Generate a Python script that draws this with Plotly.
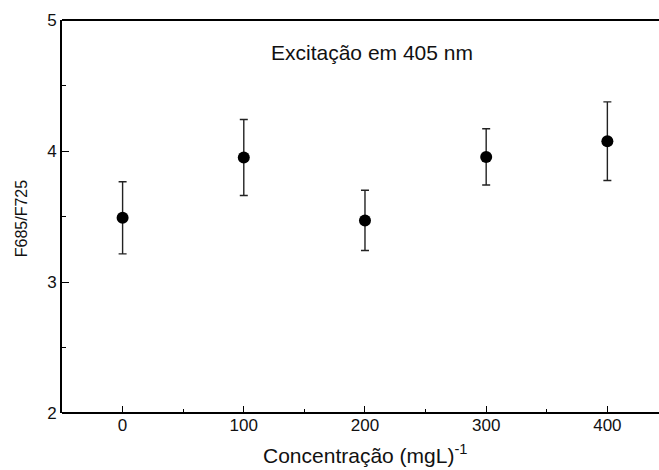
import plotly.graph_objects as go

# Concentration series (mg/L) and fluorescence ratio F685/F725 with standard deviation
concentracao = [0, 100, 200, 300, 400]
razao_f685_f725 = [3.49, 3.95, 3.47, 3.955, 4.075]
desvio = [0.275, 0.29, 0.23, 0.215, 0.30]

x_ticks = [0, 100, 200, 300, 400]
y_ticks = [2, 3, 4, 5]

FONT = "Liberation Sans, Arial, sans-serif"
TXT = "#111111"

fig = go.Figure()
fig.add_trace(go.Scatter(
    x=concentracao,
    y=razao_f685_f725,
    mode="markers",
    marker=dict(symbol="circle", size=12, color="black"),
    error_y=dict(type="data", array=desvio, visible=True,
                 color="#222222", thickness=1.4, width=4),
    showlegend=False,
))

fig.add_annotation(
    x=206, y=4.755, xref="x", yref="y",
    text="Excitação em 405 nm", showarrow=False,
    font=dict(family=FONT, size=21, color=TXT),
)

# axis titles placed as annotations
fig.add_annotation(
    x=200, y=-0.105, xref="x", yref="paper",
    xanchor="center", yanchor="middle",
    text="Concentração (mgL)<sup>-1</sup>", showarrow=False,
    font=dict(family=FONT, size=21, color=TXT),
)
fig.add_annotation(
    x=-0.069, y=0.494, xref="paper", yref="paper",
    xanchor="center", yanchor="middle", textangle=-90,
    text="F685/F725", showarrow=False,
    font=dict(family=FONT, size=16, color=TXT),
)

# top and bottom frame lines running out to the page edge (right side left open)
for yy in (0, 1):
    fig.add_shape(type="line", xref="paper", yref="paper",
                  x0=0, x1=1.0136, y0=yy, y1=yy,
                  line=dict(color="black", width=1.8))

fig.update_layout(
    width=659, height=470,
    margin=dict(l=62, r=8, t=20, b=57, pad=0),
    plot_bgcolor="white",
    paper_bgcolor="white",
    font=dict(family=FONT, color=TXT),
)

fig.update_xaxes(
    range=[-50, 436],
    tickvals=x_ticks,
    ticks="inside", ticklen=7, tickwidth=1.2, tickcolor="black",
    minor=dict(dtick=50, tick0=0, ticks="inside", ticklen=4, tickcolor="black", tickwidth=1.2),
    showline=False,
    showgrid=False, zeroline=False, automargin=False,
    tickfont=dict(family=FONT, size=17, color=TXT),
)

fig.update_yaxes(
    range=[2, 5],
    tickvals=y_ticks,
    ticks="inside", ticklen=7, tickwidth=1.2, tickcolor="black",
    minor=dict(dtick=0.5, tick0=2, ticks="inside", ticklen=4, tickcolor="black", tickwidth=1.2),
    showline=True, linecolor="black", linewidth=1.8, mirror=False,
    showgrid=False, zeroline=False, automargin=False,
    tickfont=dict(family=FONT, size=17, color=TXT),
)

fig.write_html("out.html", config={"displayModeBar": False})
